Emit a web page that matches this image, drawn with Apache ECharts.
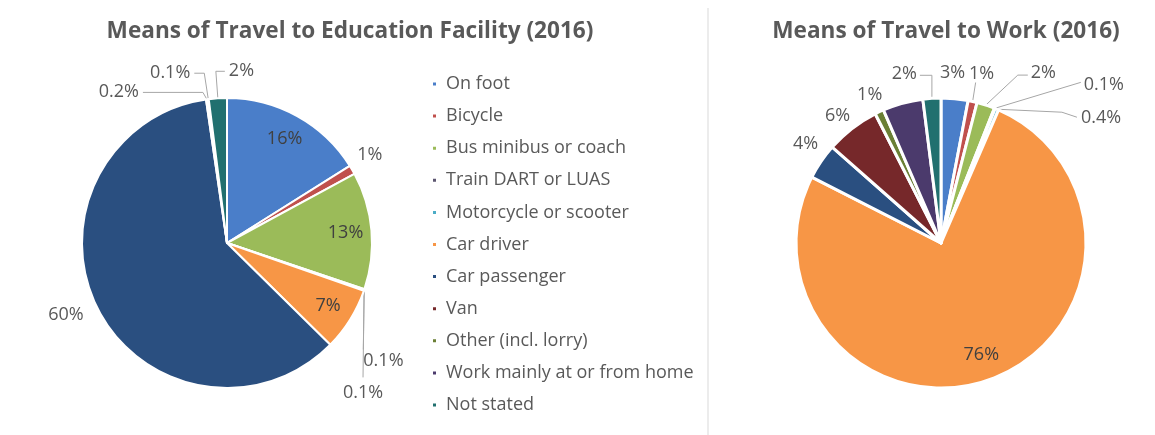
<!DOCTYPE html>
<html><head><meta charset="utf-8">
<script src="https://cdn.jsdelivr.net/npm/echarts@6/dist/echarts.min.js"></script>
<style>html,body{margin:0;padding:0;background:#fff}#c{width:1155px;height:435px}</style>
</head><body><div id="c"></div>
<script>
// ---- data ----
const categories = ["On foot","Bicycle","Bus minibus or coach","Train DART or LUAS","Motorcycle or scooter","Car driver","Car passenger","Van","Other (incl. lorry)","Work mainly at or from home","Not stated"];
const educationValues = [16, 1, 13, 0.1, 0.1, 7, 60, 0.2, 0.1, 0, 2];
const workValues = [3, 1, 2, 0.1, 0.4, 76, 4, 6, 1, 4.5, 2];
const titles = ["Means of Travel to Education Facility (2016)", "Means of Travel to Work (2016)"];

// ---- styles ----
const colors = ["#4a7ec9","#c0504d","#9bbb59","#5d5670","#4bacc6","#f79646","#2a4f80","#76282a","#6a7f35","#4b3a6c","#21706f"];
const educationInside = ["On foot","Bus minibus or coach","Car driver"];
const workInside = ["Car driver"];
const workHidden = ["Work mainly at or from home"];
// leader-line styling relative to the slice anchor point computed by ECharts
const educationLeaders = {
  "Bicycle":               { pts: [], off: [5, -15], align: 'left', line: false },
  "Train DART or LUAS":    { pts: [[-1, 60]], off: [0, 11], align: 'left', line: true },
  "Motorcycle or scooter": { pts: [[-1, 87]], off: [0, 15], align: 'center', line: true },
  "Car passenger":         { pts: [], off: [-14, 6], align: 'right', line: false },
  "Van":                   { pts: [[-4, -7], [-64, -7]], off: [-4, -1], align: 'right', line: true },
  "Other (incl. lorry)":   { pts: [[-4, -26], [-14, -26]], off: [-4, 0], align: 'right', line: true },
  "Not stated":            { pts: [[-2, -27], [7, -27]], off: [4, 0], align: 'left', line: true }
};
const workLeaders = {
  "On foot":               { pts: [], off: [-2, -26], align: 'center', line: false },
  "Bicycle":               { pts: [[3, -19]], off: [6, -9], align: 'center', line: true },
  "Bus minibus or coach":  { pts: [[32, -30], [42, -30]], off: [3, -2], align: 'left', line: true },
  "Train DART or LUAS":    { pts: [[86, -26]], off: [3, 3], align: 'left', line: true },
  "Motorcycle or scooter": { pts: [[65, 3], [80, 8]], off: [4, 1], align: 'left', line: true },
  "Car passenger":         { pts: [], off: [-3, -18], align: 'right', line: false },
  "Van":                   { pts: [], off: [-2, -13], align: 'right', line: false },
  "Other (incl. lorry)":   { pts: [], off: [3, -17], align: 'right', line: false },
  "Not stated":            { pts: [[0, -23], [-12, -23]], off: [-3, -1], align: 'right', line: true }
};

const FONT = "'Open Sans', Lato, sans-serif";
const LABEL_COLOR = '#595959';

function mainData(values, inside, hidden, leaders) {
  return categories.map((name, i) => {
    const d = { name, value: values[i], itemStyle: { color: colors[i] } };
    const sp = leaders[name];
    if (values[i] === 0 || hidden.includes(name) || inside.includes(name)) {
      d.label = { show: false }; d.labelLine = { show: false };
    } else if (sp && !sp.line) {
      d.labelLine = { show: true, lineStyle: { opacity: 0 } };
    }
    return d;
  });
}
function ghostData(values, inside) {
  return categories.map((name, i) => ({
    name, value: values[i],
    itemStyle: { color: 'rgba(0,0,0,0)', borderWidth: 0 },
    label: { show: inside.includes(name) }
  }));
}
function makeLayout(leaders) {
  return function (params) {
    const sp = leaders[categories[params.dataIndex]];
    const pts = params.labelLinePoints;
    if (!sp || !pts) return {};
    const p0 = pts[0];
    const line = [[p0[0], p0[1]]];
    sp.pts.forEach(d => line.push([p0[0] + d[0], p0[1] + d[1]]));
    if (line.length === 1) line.push([p0[0], p0[1]]);
    const end = line[line.length - 1];
    return { x: end[0] + sp.off[0], y: end[1] + sp.off[1], align: sp.align, verticalAlign: 'middle', labelLinePoints: line };
  };
}
const baseLabel = { formatter: '{c}%', fontFamily: FONT, fontSize: 18, color: LABEL_COLOR };

const chart = echarts.init(document.getElementById('c'), null, { renderer: 'canvas' });
chart.setOption({
  animation: false,
  color: colors,
  title: [
    { text: titles[0], left: 345, top: 15, textAlign: 'center', textStyle: { fontFamily: FONT, fontSize: 22.6, fontWeight: 'bold', color: '#595959' } },
    { text: titles[1], left: 941, top: 15, textAlign: 'center', textStyle: { fontFamily: FONT, fontSize: 22.6, fontWeight: 'bold', color: '#595959' } }
  ],
  legend: {
    orient: 'vertical', left: 431, top: 74, padding: 0, itemWidth: 5, itemHeight: 5, itemGap: 12.1,
    icon: 'rect', data: categories,
    textStyle: { fontFamily: FONT, fontSize: 18, color: '#595959', lineHeight: 20, padding: [0, 0, 0, 4] }
  },
  graphic: [
    { type: 'line', shape: { x1: 708, y1: 8, x2: 708, y2: 435 }, style: { stroke: '#d9d9d9', lineWidth: 1 } }
  ],
  series: [
    {
      type: 'pie', center: [227, 243], radius: 145, startAngle: 90, clockwise: true, avoidLabelOverlap: false,
      data: mainData(educationValues, educationInside, [], educationLeaders),
      itemStyle: { borderColor: '#fff', borderWidth: 2 },
      label: baseLabel,
      labelLine: { length: 10, length2: 10, lineStyle: { color: '#a6a6a6', width: 1 } },
      labelLayout: makeLayout(educationLeaders)
    },
    {
      type: 'pie', center: [227, 243], radius: [87, 145], startAngle: 90, clockwise: true, silent: true,
      data: ghostData(educationValues, educationInside),
      label: Object.assign({}, baseLabel, { position: 'inside', color: '#404040' }),
      labelLine: { show: false }
    },
    {
      type: 'pie', center: [941, 243], radius: 145, startAngle: 90, clockwise: true, avoidLabelOverlap: false,
      data: mainData(workValues, workInside, workHidden, workLeaders),
      itemStyle: { borderColor: '#fff', borderWidth: 3 },
      label: baseLabel,
      labelLine: { length: 10, length2: 10, lineStyle: { color: '#a6a6a6', width: 1 } },
      labelLayout: makeLayout(workLeaders)
    },
    {
      type: 'pie', center: [941, 243], radius: [87, 145], startAngle: 90, clockwise: true, silent: true,
      data: ghostData(workValues, workInside),
      label: Object.assign({}, baseLabel, { position: 'inside', color: '#404040' }),
      labelLine: { show: false }
    }
  ]
});
</script></body></html>
